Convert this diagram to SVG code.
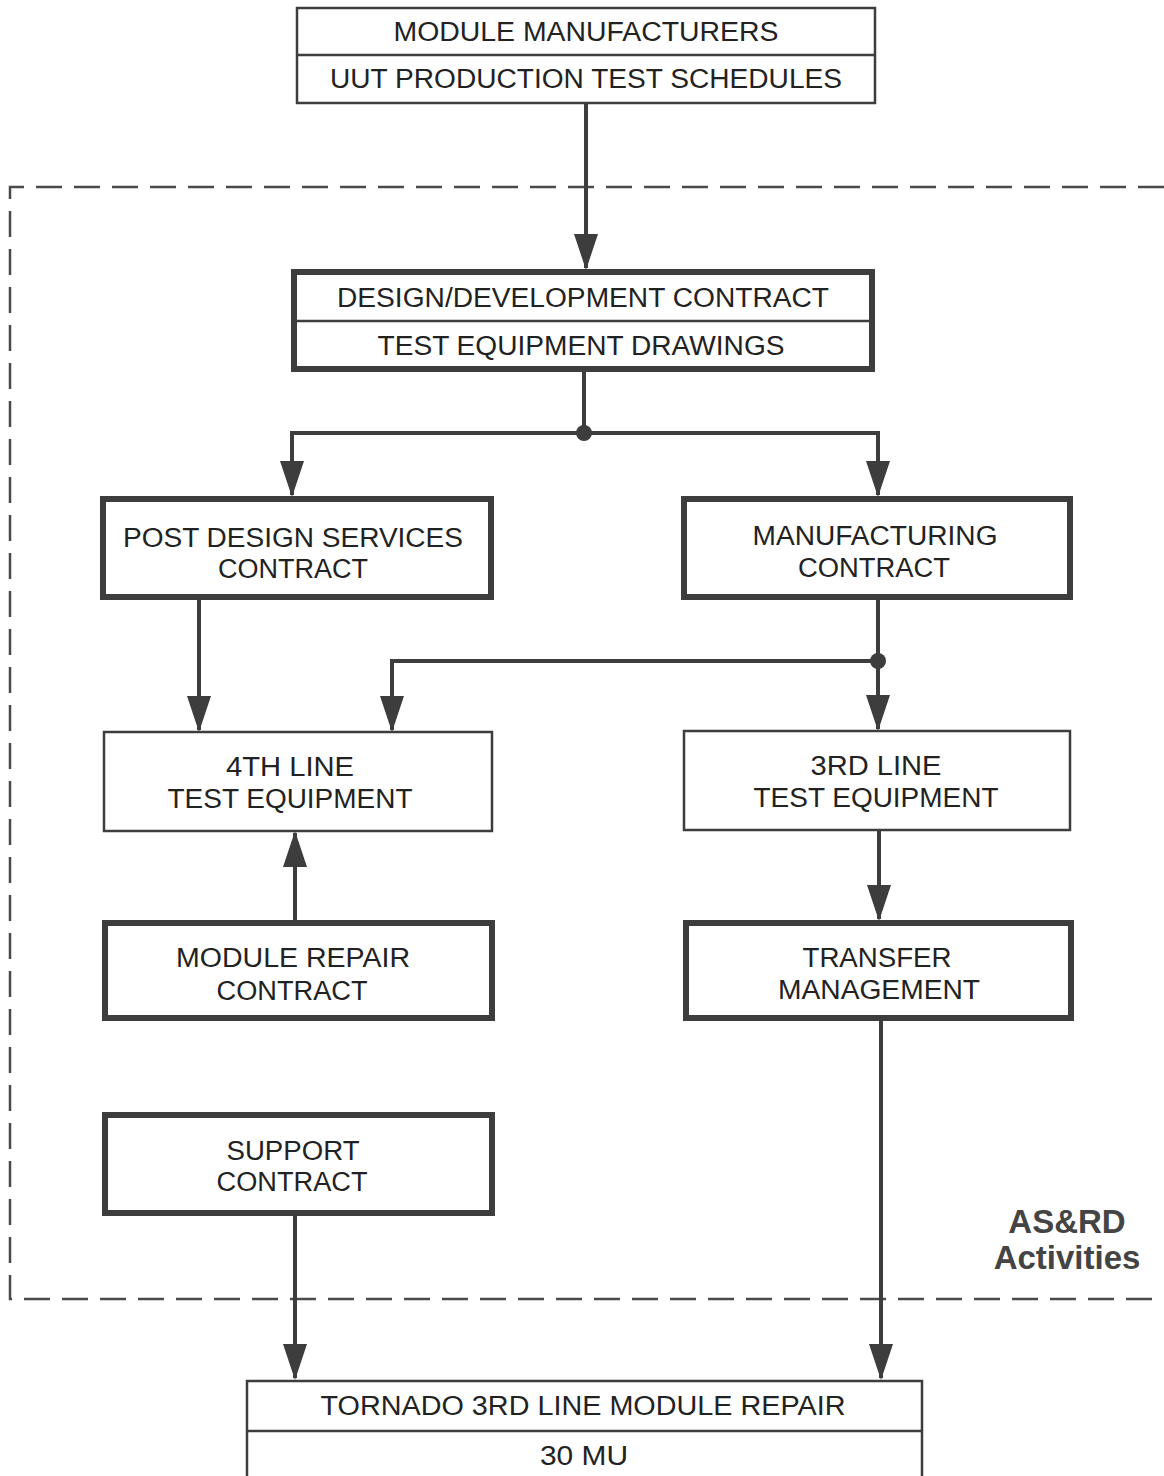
<svg xmlns="http://www.w3.org/2000/svg" width="1164" height="1476" viewBox="0 0 1164 1476">
<defs>
<marker id="ahd" markerUnits="userSpaceOnUse" markerWidth="24" markerHeight="36" viewBox="0 0 24 36" refX="12" refY="34" orient="0">
<path d="M0,0 L12,36 L24,0 Z" fill="#3d3d3d"/>
</marker>
<marker id="ahu" markerUnits="userSpaceOnUse" markerWidth="24" markerHeight="36" viewBox="0 0 24 36" refX="12" refY="2" orient="0">
<path d="M0,36 L12,0 L24,36 Z" fill="#3d3d3d"/>
</marker>
</defs>
<style>
.bg{fill:#ffffff}
.thin{fill:#fff;stroke:#3d3d3d;stroke-width:2.5}
.thick{fill:#fff;stroke:#3d3d3d;stroke-width:6}
.div{stroke:#3d3d3d;stroke-width:2.5}
.t{font-family:"Liberation Sans",Arial,Helvetica,sans-serif;font-size:27px;fill:#222;text-anchor:middle}
.b{font-family:"Liberation Sans",Arial,Helvetica,sans-serif;font-size:33px;font-weight:bold;fill:#444;text-anchor:middle}
.c{fill:none;stroke:#3d3d3d;stroke-width:4}
.dash{fill:none;stroke:#4a4a4a;stroke-width:2.5;stroke-dasharray:26 12}
</style>
<rect class="bg" x="0" y="0" width="1164" height="1476"/>

<g id="boundary">
<path class="dash" d="M1164,187 H10 V1299 H1164"/>
<text class="b" x="1067" y="1233">AS&amp;RD</text>
<text class="b" x="1067" y="1269">Activities</text>
</g>

<g id="connectors">
<path class="c" d="M586,103 V268" marker-end="url(#ahd)"/>
<path class="c" d="M584,370 V433"/>
<path class="c" d="M584,433 H292 V495" marker-end="url(#ahd)"/>
<path class="c" d="M584,433 H878 V495" marker-end="url(#ahd)"/>
<circle cx="584" cy="433" r="8" fill="#3d3d3d"/>
<path class="c" d="M199,599 V730" marker-end="url(#ahd)"/>
<path class="c" d="M878,599 V729" marker-end="url(#ahd)"/>
<path class="c" d="M878,661 H392 V730" marker-end="url(#ahd)"/>
<circle cx="878" cy="661" r="8" fill="#3d3d3d"/>
<path class="c" d="M295,921 V833" marker-end="url(#ahu)"/>
<path class="c" d="M879,830 V919" marker-end="url(#ahd)"/>
<path class="c" d="M295,1215 V1378" marker-end="url(#ahd)"/>
<path class="c" d="M881,1020 V1378" marker-end="url(#ahd)"/>
</g>

<g id="module-manufacturers">
<rect class="thin" x="297" y="8" width="578" height="95"/>
<line class="div" x1="297" y1="55" x2="875" y2="55"/>
<text class="t" x="586" y="41" textLength="385" lengthAdjust="spacingAndGlyphs">MODULE MANUFACTURERS</text>
<text class="t" x="586" y="88" textLength="512" lengthAdjust="spacingAndGlyphs">UUT PRODUCTION TEST SCHEDULES</text>
</g>

<g id="design-development">
<rect class="thick" x="294" y="272" width="578" height="97"/>
<line class="div" x1="294" y1="321" x2="872" y2="321"/>
<text class="t" x="583" y="307" textLength="492" lengthAdjust="spacingAndGlyphs">DESIGN/DEVELOPMENT CONTRACT</text>
<text class="t" x="581" y="355" textLength="407" lengthAdjust="spacingAndGlyphs">TEST EQUIPMENT DRAWINGS</text>
</g>

<g id="post-design">
<rect class="thick" x="103" y="499" width="388" height="98"/>
<text class="t" x="293" y="547" textLength="340" lengthAdjust="spacingAndGlyphs">POST DESIGN SERVICES</text>
<text class="t" x="293" y="578" textLength="150" lengthAdjust="spacingAndGlyphs">CONTRACT</text>
</g>

<g id="manufacturing">
<rect class="thick" x="684" y="499" width="386" height="98"/>
<text class="t" x="875" y="545" textLength="245" lengthAdjust="spacingAndGlyphs">MANUFACTURING</text>
<text class="t" x="874" y="577" textLength="152" lengthAdjust="spacingAndGlyphs">CONTRACT</text>
</g>

<g id="fourth-line">
<rect class="thin" x="104" y="732" width="388" height="99"/>
<text class="t" x="290" y="776" textLength="128" lengthAdjust="spacingAndGlyphs">4TH LINE</text>
<text class="t" x="290" y="808" textLength="245" lengthAdjust="spacingAndGlyphs">TEST EQUIPMENT</text>
</g>

<g id="third-line">
<rect class="thin" x="684" y="731" width="386" height="99"/>
<text class="t" x="876" y="775" textLength="131" lengthAdjust="spacingAndGlyphs">3RD LINE</text>
<text class="t" x="876" y="807" textLength="245" lengthAdjust="spacingAndGlyphs">TEST EQUIPMENT</text>
</g>

<g id="module-repair">
<rect class="thick" x="105" y="923" width="387" height="95"/>
<text class="t" x="293" y="967" textLength="234" lengthAdjust="spacingAndGlyphs">MODULE REPAIR</text>
<text class="t" x="292" y="1000" textLength="151" lengthAdjust="spacingAndGlyphs">CONTRACT</text>
</g>

<g id="transfer">
<rect class="thick" x="686" y="923" width="385" height="95"/>
<text class="t" x="877" y="967" textLength="149" lengthAdjust="spacingAndGlyphs">TRANSFER</text>
<text class="t" x="879" y="999" textLength="202" lengthAdjust="spacingAndGlyphs">MANAGEMENT</text>
</g>

<g id="support">
<rect class="thick" x="105" y="1115" width="387" height="98"/>
<text class="t" x="293" y="1160" textLength="133" lengthAdjust="spacingAndGlyphs">SUPPORT</text>
<text class="t" x="292" y="1191" textLength="151" lengthAdjust="spacingAndGlyphs">CONTRACT</text>
</g>

<g id="tornado">
<path class="thin" d="M247,1480 V1381 H922 V1480"/>
<line class="div" x1="247" y1="1431" x2="922" y2="1431"/>
<text class="t" x="583" y="1415" textLength="525" lengthAdjust="spacingAndGlyphs">TORNADO 3RD LINE MODULE REPAIR</text>
<text class="t" x="584" y="1465" textLength="88" lengthAdjust="spacingAndGlyphs">30 MU</text>
</g>
</svg>
